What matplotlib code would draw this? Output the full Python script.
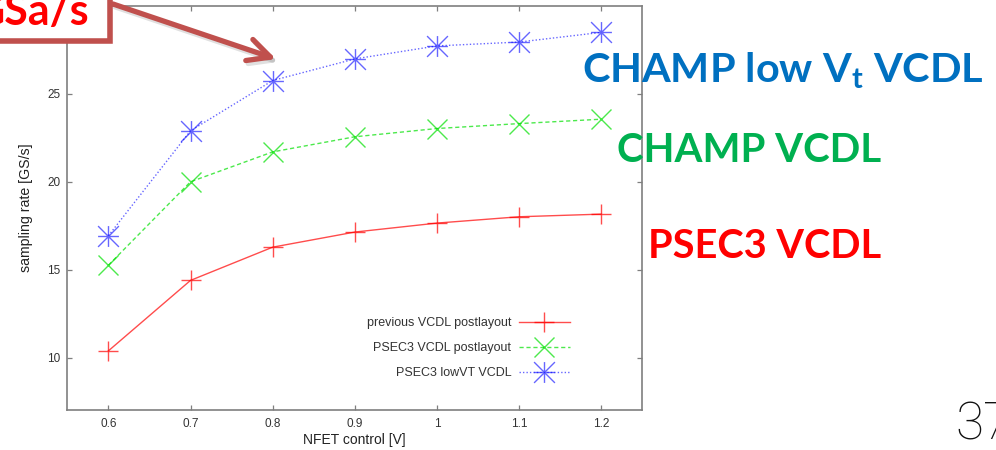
import matplotlib
matplotlib.use("Agg")
import matplotlib.pyplot as plt
from matplotlib.path import Path
from matplotlib.patches import Rectangle, FancyArrowPatch

# ---- data -------------------------------------------------------------
nfet_control = [0.6, 0.7, 0.8, 0.9, 1.0, 1.1, 1.2]
previous_vcdl = [10.38, 14.39, 16.28, 17.14, 17.65, 18.01, 18.16]
psec3_vcdl = [15.25, 20.0, 21.7, 22.56, 23.03, 23.31, 23.56]
psec3_lowvt = [16.93, 22.9, 25.76, 26.99, 27.73, 27.95, 28.5]

series_labels = ["previous VCDL postlayout", "PSEC3 VCDL postlayout", "PSEC3 lowVT VCDL"]
x_ticks = [0.6, 0.7, 0.8, 0.9, 1.0, 1.1, 1.2]
x_tick_labels = ["0.6", "0.7", "0.8", "0.9", "1", "1.1", "1.2"]
y_ticks = [10, 15, 20, 25]

# ---- figure in pixel units ---------------------------------------------
W, H = 996, 450
fig = plt.figure(figsize=(W / 100, H / 100), dpi=100)
fig.patch.set_facecolor("white")


def fx(px):
    return px / W


def fy(py):
    return 1 - py / H


ax = fig.add_axes([fx(67.3), fy(410.3), fx(642.3) - fx(67.3), fy(6) - fy(410.3)])

# gnuplot-style "*" point: a plus and a cross drawn together
star_path = Path(
    [(-1, 0), (1, 0), (0, -1), (0, 1), (-1, -1), (1, 1), (-1, 1), (1, -1)],
    [Path.MOVETO, Path.LINETO] * 4,
)

ms = 15
ax.plot(nfet_control, previous_vcdl, color="#ff0000", alpha=0.7, lw=1.0,
        ls="-", marker="+", ms=ms, mew=1.0, label=series_labels[0])
ax.plot(nfet_control, psec3_vcdl, color="#00e000", alpha=0.7, lw=1.0,
        ls=(0, (3, 2)), marker="x", ms=ms, mew=1.0, label=series_labels[1])
ax.plot(nfet_control, psec3_lowvt, color="#0000ff", alpha=0.6, lw=1.0,
        ls=(0, (1, 1.5)), marker=star_path, ms=ms, mew=1.0, label=series_labels[2])

ax.set_xlim(0.55, 1.25)
ax.set_ylim(7, 30)
ax.set_xticks(x_ticks)
ax.set_xticklabels(x_tick_labels)
ax.set_yticks(y_ticks)

tick_font = "Liberation Sans"
for s in ax.spines.values():
    s.set_color("#7f7f7f")
    s.set_linewidth(1.2)
ax.tick_params(axis="both", direction="in", length=3.6, width=0.9, color="#7f7f7f",
               top=True, right=True, labelsize=8.5, labelcolor="#333333")
ax.tick_params(axis="x", pad=5.5)
ax.tick_params(axis="y", pad=5)
for lab in ax.get_xticklabels() + ax.get_yticklabels():
    lab.set_family(tick_font)

ax.set_xlabel("NFET control [V]", fontsize=10, family=tick_font, color="#222222")
ax.set_ylabel("sampling rate [GS/s]", fontsize=10.2, family=tick_font, color="#222222")
ax.xaxis.set_label_coords(0.5, (410.3 - 433) / 404.3)
ax.yaxis.set_label_coords((32.5 - 67.3) / 575.0, 0.5)

leg = ax.legend(loc="center right", bbox_to_anchor=(fx(570), fy(348)),
                bbox_transform=fig.transFigure, frameon=False, markerfirst=False,
                prop={"family": tick_font, "size": 9}, handlelength=4.1,
                handletextpad=0.6, labelspacing=1.03, borderpad=0, borderaxespad=0,
                numpoints=1)
for t in leg.get_texts():
    t.set_color("#333333")

# ---- slide annotations -------------------------------------------------
callout_red = "#c0504d"

shadow = FancyArrowPatch(posA=(fx(115), fy(7)), posB=(fx(278), fy(62)),
                         transform=fig.transFigure, arrowstyle="->,head_length=1.6,head_width=0.8",
                         mutation_scale=10, lw=3.6, color="#000000", alpha=0.12,
                         shrinkA=0, shrinkB=0, zorder=4)
fig.add_artist(shadow)
arrow = FancyArrowPatch(posA=(fx(113), fy(4)), posB=(fx(276), fy(59)),
                        transform=fig.transFigure, arrowstyle="->,head_length=1.6,head_width=0.8",
                        mutation_scale=10, lw=3.8, color=callout_red,
                        shrinkA=0, shrinkB=0, zorder=5)
fig.add_artist(arrow)

box = Rectangle((fx(-10), fy(40.5)), fx(120), fy(-10) - fy(40.5),
                transform=fig.transFigure, facecolor="white", edgecolor=callout_red,
                lw=4.0, zorder=6)
fig.add_artist(box)
fig.text(fx(89), fy(25), "GSa/s", ha="right", va="baseline", fontsize=31,
         family="Lato", weight="bold", color="#ff0000", zorder=7)

big = dict(family="Lato", weight="bold", ha="left", va="baseline", zorder=7)
plt.rcParams["mathtext.fontset"] = "custom"
plt.rcParams["mathtext.bf"] = "Lato:bold"
plt.rcParams["mathtext.rm"] = "Lato:bold"
fig.text(fx(582), fy(82.3), r"CHAMP low V$_\mathbf{t}$ VCDL", color="#0070c0",
         fontsize=29.8, **big)
fig.text(fx(617), fy(162), "CHAMP VCDL", color="#00b050", fontsize=29, **big)
fig.text(fx(648), fy(257.7), "PSEC3 VCDL", color="#ff0000", fontsize=28.6, **big)

# slide page number
fig.text(fx(955), fy(440), "37", family="Roboto", weight="light", fontsize=37,
         ha="left", va="baseline", color="#111111", zorder=7)

fig.savefig("out.png", dpi=100, facecolor="white")
